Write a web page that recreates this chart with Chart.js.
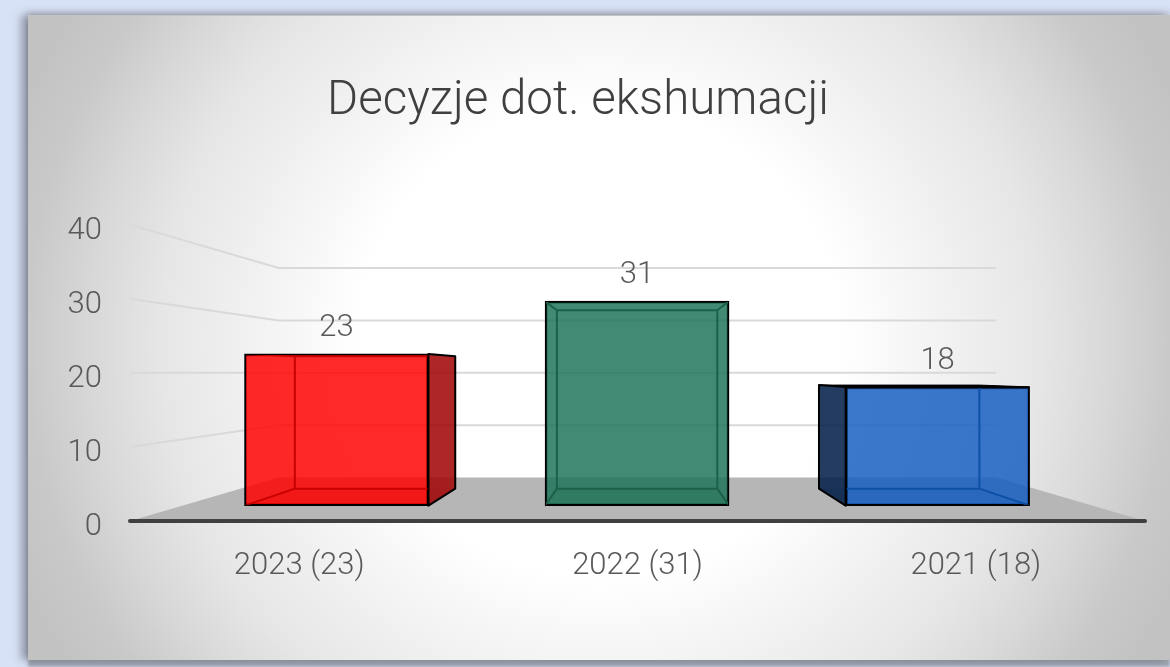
<!DOCTYPE html>
<html lang="pl">
<head>
<meta charset="utf-8">
<title>Decyzje dot. ekshumacji</title>
<script src="https://cdn.jsdelivr.net/npm/chart.js@4"></script>
<style>
html,body{margin:0;padding:0;width:1170px;height:667px;overflow:hidden;background:#d8e2f6;}
#panel{position:absolute;left:28px;top:15px;width:1142px;height:645px;
  background:radial-gradient(ellipse 572px 560px at 572px 325px,#ffffff 0%,#ffffff 42%,#f2f2f2 60%,#e6e6e6 77%,#d8d8d8 89%,#c9c9c9 100%,#c2c2c2 110%);
  box-shadow:-7px 0 8px rgba(85,90,105,.5),0 -3px 6px rgba(110,110,110,.3),0 7px 3px rgba(120,125,130,.6);
  border-top:1px solid #c4c4c4;box-sizing:border-box;}
canvas{position:absolute;left:0;top:0;}
</style>
</head>
<body>
<div id="panel"></div>
<canvas id="c" width="1170" height="667"></canvas>
<script>
const titleText = 'Decyzje dot. ekshumacji';
const categories = ['2023 (23)', '2022 (31)', '2021 (18)'];
const values = [23, 31, 18];
const barPositions = [0, 1, 2];
const frontColors = ['rgba(255,0,0,.84)', 'rgba(30,116,88,.84)', 'rgba(21,94,194,.84)'];
const sideColors = ['rgba(163,9,9,.88)', 'rgba(20,70,55,.88)', 'rgba(5,33,74,.88)'];
const innerColors = ['#c80000', '#1c6049', '#0d50a6'];
const floorTints = ['rgba(120,0,0,.16)', 'rgba(0,50,35,.16)', 'rgba(0,30,90,.16)'];
const yTicks = [0, 10, 20, 30, 40];

const FONT = 'Roboto, "Open Sans", sans-serif';
const WALL_DEPTH = 0.707, BOX_DEPTH = 0.872;

function vanish(chart) {
  const a = chart.chartArea;
  return { x: (a.left + a.right) / 2, y: (a.top + a.bottom) / 2 };
}
function proj(v, p, k) { return v + (p - v) * k; }
function poly(ctx, pts) {
  ctx.beginPath();
  pts.forEach((p, i) => i ? ctx.lineTo(p[0], p[1]) : ctx.moveTo(p[0], p[1]));
  ctx.closePath();
}
function boxOf(chart, el) {
  const v = vanish(chart);
  const p = el.getProps(['x', 'y', 'base', 'width'], true);
  const l = p.x - p.width / 2, r = p.x + p.width / 2, t = p.y, b = p.base;
  return {
    l, r, t, b,
    bl: proj(v.x, l, BOX_DEPTH), br: proj(v.x, r, BOX_DEPTH),
    bt: proj(v.y, t, BOX_DEPTH), bb: proj(v.y, b, BOX_DEPTH)
  };
}

const scene = {
  id: 'scene',
  beforeDatasetsDraw(chart) {
    const { ctx, chartArea: a, scales } = chart;
    const v = vanish(chart);
    const bl = proj(v.x, a.left, WALL_DEPTH), br = proj(v.x, a.right, WALL_DEPTH);
    ctx.save();
    // back and side wall grid lines
    ctx.strokeStyle = '#d9d9d9';
    ctx.lineWidth = 2;
    yTicks.slice(1).forEach(t => {
      const py = scales.y.getPixelForValue(t);
      const by = proj(v.y, py, WALL_DEPTH);
      ctx.beginPath();
      ctx.moveTo(a.left, py);
      ctx.lineTo(bl, by);
      ctx.lineTo(br, by);
      ctx.stroke();
    });
    // floor
    const y0 = scales.y.getPixelForValue(0), fy = proj(v.y, y0, WALL_DEPTH);
    ctx.fillStyle = '#b6b6b6';
    poly(ctx, [[a.left, y0], [bl, fy], [br, fy], [a.right, y0]]);
    ctx.fill();
    // front axis bar
    ctx.strokeStyle = '#404040';
    ctx.lineWidth = 4;
    ctx.lineCap = 'round';
    ctx.beginPath();
    ctx.moveTo(a.left, y0);
    ctx.lineTo(a.right, y0);
    ctx.stroke();
    ctx.lineCap = 'butt';
    // box faces behind the front face
    chart.getDatasetMeta(0).data.forEach((el, i) => {
      const g = boxOf(chart, el);
      ctx.fillStyle = floorTints[i];
      poly(ctx, [[g.l, g.b], [g.bl, g.bb], [g.br, g.bb], [g.r, g.b]]);
      ctx.fill();
      ctx.strokeStyle = '#000';
      ctx.lineWidth = 2;
      ctx.lineJoin = 'round';
      ctx.fillStyle = sideColors[i];
      if (g.br > g.r) {
        poly(ctx, [[g.r, g.t], [g.br, g.bt], [g.br, g.bb], [g.r, g.b]]);
        ctx.fill(); ctx.stroke();
      }
      if (g.bl < g.l) {
        poly(ctx, [[g.l, g.t], [g.bl, g.bt], [g.bl, g.bb], [g.l, g.b]]);
        ctx.fill(); ctx.stroke();
      }
      if (g.bt < g.t) {
        ctx.fillStyle = '#000';
        poly(ctx, [[g.l, g.t], [g.bl, g.bt], [g.br, g.bt], [g.r, g.t]]);
        ctx.fill(); ctx.lineWidth = 1; ctx.stroke();
      }
    });
    ctx.restore();
  },
  afterDatasetsDraw(chart) {
    const { ctx } = chart;
    chart.getDatasetMeta(0).data.forEach((el, i) => {
      const g = boxOf(chart, el);
      ctx.save();
      ctx.beginPath();
      ctx.rect(g.l + 1, g.t + 1, g.r - g.l - 2, g.b - g.t - 2);
      ctx.clip();
      ctx.strokeStyle = innerColors[i];
      ctx.lineWidth = 2;
      ctx.beginPath();
      ctx.moveTo(g.bl, g.bt); ctx.lineTo(g.br, g.bt);
      ctx.lineTo(g.br, g.bb); ctx.lineTo(g.bl, g.bb); ctx.closePath();
      [[g.l, g.t, g.bl, g.bt], [g.r, g.t, g.br, g.bt], [g.l, g.b, g.bl, g.bb], [g.r, g.b, g.br, g.bb]]
        .forEach(s => { ctx.moveTo(s[0], s[1]); ctx.lineTo(s[2], s[3]); });
      ctx.stroke();
      ctx.restore();
      // value label above the bar
      ctx.save();
      ctx.font = '300 31px ' + FONT;
      ctx.fillStyle = '#595959';
      ctx.textAlign = 'center';
      ctx.textBaseline = 'middle';
      ctx.fillText(String(values[i]), el.x, g.t - 26);
      ctx.restore();
    });
  }
};

new Chart(document.getElementById('c'), {
  type: 'bar',
  data: {
    labels: categories,
    datasets: [{
      data: barPositions.map((x, i) => ({ x, y: values[i] })),
      xAxisID: 'xb',
      yAxisID: 'yb',
      backgroundColor: frontColors,
      borderColor: '#000000',
      borderWidth: 2,
      borderSkipped: false,
      barThickness: 184
    }]
  },
  options: {
    responsive: false,
    animation: false,
    layout: { padding: { left: 11, right: 25, top: 0, bottom: 44 } },
    plugins: {
      legend: { display: false },
      tooltip: { enabled: false },
      title: {
        display: true,
        text: titleText,
        color: '#404040',
        font: { family: FONT, size: 47.5, weight: 300, lineHeight: 1.2 },
        padding: { top: 74, bottom: 93.6 }
      }
    },
    scales: {
      x: {
        type: 'category',
        offset: true,
        grid: { display: false },
        border: { display: false },
        ticks: { color: '#595959', font: { family: FONT, size: 31, weight: 300 }, padding: 19, maxRotation: 0 },
        afterFit(s) { s.height = 102; }
      },
      y: {
        type: 'linear',
        min: 0,
        max: 40,
        grid: { display: false },
        border: { display: false },
        afterBuildTicks(s) { s.ticks = yTicks.map(value => ({ value })); },
        ticks: {
          color: '#595959',
          font: { family: FONT, size: 31, weight: 300, lineHeight: 0.42 },
          padding: 20,
          callback: v => ['', String(v)]
        },
        afterFit(s) { s.width = 119; }
      },
      xb: {
        type: 'linear', axis: 'x', display: false, offset: false,
        min: -0.687, max: 2.69, grid: { display: false }
      },
      yb: {
        type: 'linear', axis: 'y', display: false,
        min: -2.33, max: 42.6, grid: { display: false }
      }
    }
  },
  plugins: [scene]
});
</script>
</body>
</html>
